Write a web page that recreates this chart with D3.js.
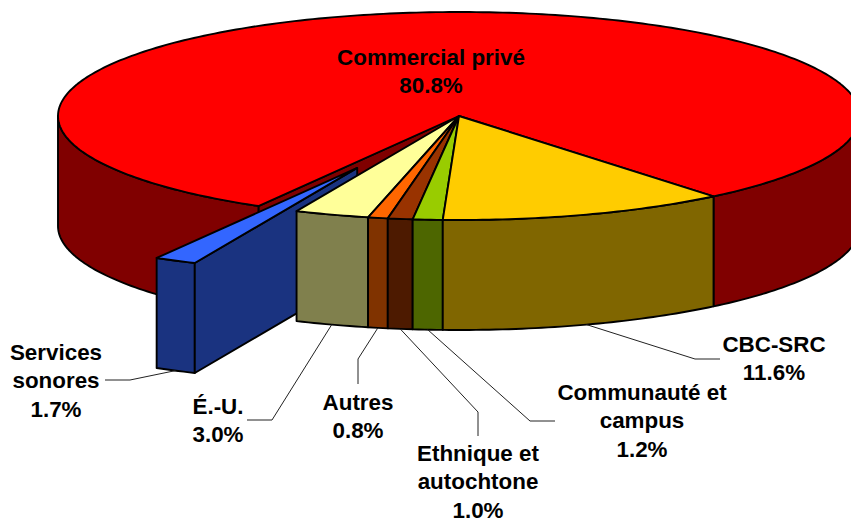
<!DOCTYPE html>
<html>
<head>
    <meta charset="utf-8">
    <title>Parts d'écoute</title>
    <script src="https://d3js.org/d3.v7.min.js"></script>
    <style>
        body { margin: 0; background: #fff; }
        svg { display: block; }
        .face { stroke: #000; stroke-width: 1.9; stroke-linejoin: round; }
        .leader { fill: none; stroke: #222; stroke-width: 1; }
        text { font-family: "Liberation Sans", Arial, sans-serif; font-weight: bold; font-size: 22.4px; fill: #000; text-anchor: middle; }
    </style>
</head>
<body>
    <svg id="chart" width="851" height="519"></svg>

    <script>
        // Data, clockwise from the CBC-SRC slice
        var categories = ["CBC-SRC", "Communauté et campus", "Ethnique et autochtone", "Autres", "É.-U.", "Services sonores", "Commercial privé"];
        var shares = [11.6, 1.2, 1.0, 0.8, 3.0, 1.7, 80.8];
        var labelLines = [["CBC-SRC"], ["Communauté et", "campus"], ["Ethnique et", "autochtone"], ["Autres"], ["É.-U."], ["Services", "sonores"], ["Commercial privé"]];

        // Styles
        var topColors = ["#ffcc00", "#99cc00", "#993300", "#ff6600", "#ffff99", "#3366ff", "#ff0000"];
        var wallColors = ["#806600", "#4d6600", "#4d1a00", "#803300", "#80804d", "#1a3380", "#800000"];

        // Layout of the labels and leader lines, same order as categories
        var labelX = [774, 642, 478, 358, 218, 56, 431];
        var labelY = [352, 400, 461, 410, 414, 360, 65];
        var elbows = [
            [[695, 359], [720, 359]],
            [[530, 421], [555, 421]],
            [[478, 412], [478, 436]],
            [[358, 359], [358, 384]],
            [[272, 420], [247, 420]],
            [[130, 380], [105, 380]],
            null
        ];

        var lineHeight = 28.3;
        var cx = 459, cy = 116, rx = 401, ry = 104, depth = 110;
        var startDeg = 140.6;
        var explodeIndex = 5, explode = 0.56;

        var svg = d3.select("#chart");

        var pie = d3.pie().sort(null)
            .startAngle(startDeg * Math.PI / 180)
            .endAngle(startDeg * Math.PI / 180 + 2 * Math.PI);
        var slices = pie(shares);

        // Scales from the unit circle to the flattened disc
        var xScale = d3.scaleLinear().domain([-1, 1]).range([cx - rx, cx + rx]);
        var yScale = d3.scaleLinear().domain([-1, 1]).range([cy - ry, cy + ry]);

        function project(angle, r, dx, dy, dz) {
            return [xScale(r * Math.sin(angle)) + dx, yScale(-r * Math.cos(angle)) + dy + dz];
        }

        function offsetOf(i) {
            if (i != explodeIndex) return [0, 0];
            var mid = (slices[i].startAngle + slices[i].endAngle) / 2;
            var p = project(mid, explode, 0, 0, 0);
            return [p[0] - cx, p[1] - cy];
        }

        function arcPoints(a0, a1, off, dz) {
            var n = Math.max(2, Math.ceil(Math.abs(a1 - a0) * 60));
            return d3.range(n + 1).map(function(k) {
                return project(a0 + (a1 - a0) * k / n, 1, off[0], off[1], dz);
            });
        }

        var line = d3.line();

        function addFace(points, color) {
            svg.append("path").attr("class", "face").attr("fill", color)
                .attr("d", line(points) + "Z");
        }

        // Outer wall: only the front half of the disc shows (90 to 270 degrees)
        function drawWall(i) {
            var s = slices[i], off = offsetOf(i);
            [0, 2 * Math.PI].forEach(function(turn) {
                var a0 = Math.max(s.startAngle, Math.PI / 2 + turn);
                var a1 = Math.min(s.endAngle, 3 * Math.PI / 2 + turn);
                if (a1 <= a0) return;
                var upper = arcPoints(a0, a1, off, 0);
                var lower = arcPoints(a1, a0, off, depth);
                addFace(upper.concat(lower), wallColors[i]);
            });
        }

        // Flat cut face along one radial edge, seen where a slice has been pulled out
        function drawCut(i, angle) {
            var off = offsetOf(i);
            addFace([
                project(angle, 0, off[0], off[1], 0),
                project(angle, 1, off[0], off[1], 0),
                project(angle, 1, off[0], off[1], depth),
                project(angle, 0, off[0], off[1], depth)
            ], wallColors[i]);
        }

        function drawTop(i) {
            var s = slices[i], off = offsetOf(i);
            var apex = project(0, 0, off[0], off[1], 0);
            addFace([apex].concat(arcPoints(s.startAngle, s.endAngle, off, 0)), topColors[i]);
        }

        // Painter's order: big slice, pulled out slice, then the front slices
        drawCut(6, slices[6].startAngle);
        drawWall(6);
        drawTop(6);

        drawWall(5);
        drawCut(5, slices[5].startAngle);
        drawTop(5);

        [4, 3, 2, 1, 0].forEach(function(i) {
            drawWall(i);
        });
        [4, 3, 2, 1, 0].forEach(function(i) {
            drawTop(i);
        });

        // Leader lines start on the bottom of each slice's wall
        categories.forEach(function(name, i) {
            if (!elbows[i]) return;
            var s = slices[i], off = offsetOf(i);
            var start = project((s.startAngle + s.endAngle) / 2, 1, off[0], off[1], depth);
            svg.append("path").attr("class", "leader")
                .attr("d", line([start].concat(elbows[i])));
        });

        // Labels: name lines and then the share
        categories.forEach(function(name, i) {
            var rows = labelLines[i].concat([shares[i].toFixed(1) + "%"]);
            var label = svg.append("text").attr("data-category", name);
            rows.forEach(function(row, k) {
                label.append("tspan")
                    .attr("x", labelX[i])
                    .attr("y", labelY[i] + k * lineHeight)
                    .text(row);
            });
        });
    </script>
</body>
</html>
